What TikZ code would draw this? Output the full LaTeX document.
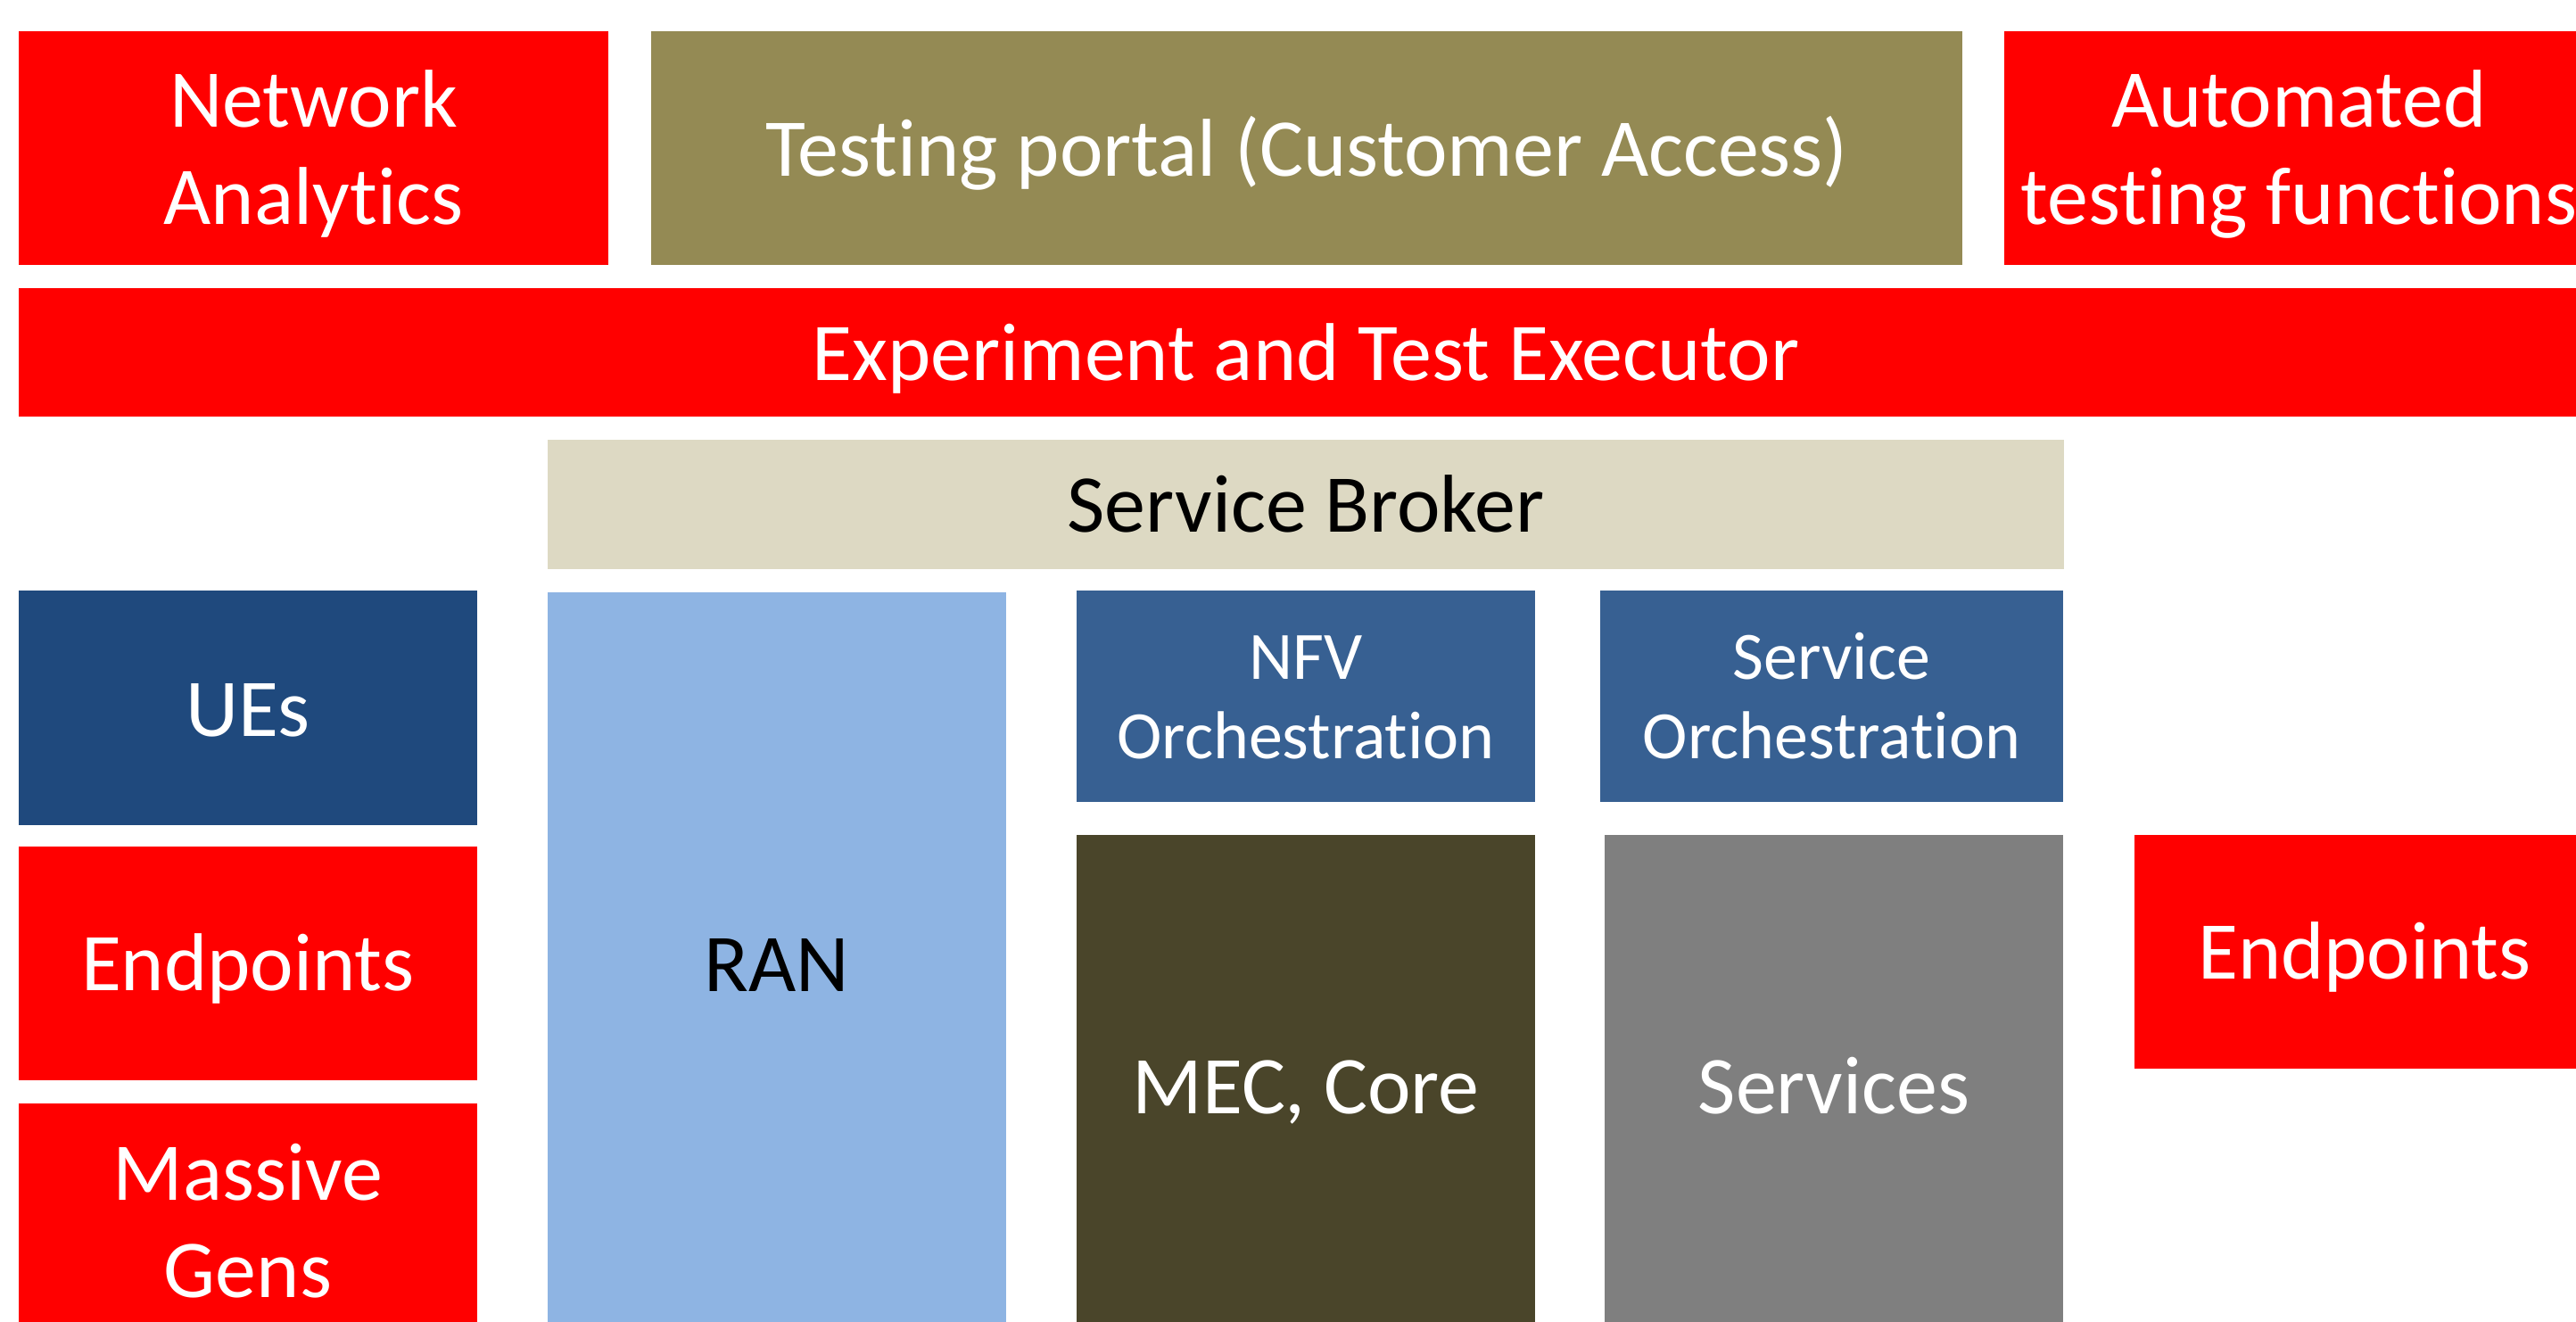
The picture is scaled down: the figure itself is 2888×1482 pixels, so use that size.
\documentclass[tikz,border=0pt]{standalone}
\usepackage{fontspec}
\setmainfont{Carlito}[Ligatures=NoCommon]
\usetikzlibrary{fit}
\definecolor{redbox}{HTML}{FF0000}
\definecolor{olivebox}{HTML}{948A54}
\definecolor{beigebox}{HTML}{DDD9C3}
\definecolor{navybox}{HTML}{1F497D}
\definecolor{bluebox}{HTML}{376092}
\definecolor{skybox}{HTML}{8EB4E3}
\definecolor{darkolivebox}{HTML}{4A452A}
\definecolor{greybox}{HTML}{7F7F7F}
\tikzset{
  blk/.style={rectangle, inner sep=0pt, outer sep=0pt, draw=none},
  bigtext/.style={font=\fontsize{92}{109}\selectfont},
  smalltext/.style={font=\fontsize{76}{89}\selectfont},
  lbl/.style={anchor=base, inner sep=0pt, outer sep=0pt, text=white},
}
\newcommand{\twolines}[2]{\begin{tabular}[t]{@{}c@{}}#1\\#2\end{tabular}}
\begin{document}
\begin{tikzpicture}[x=1pt,y=-1pt]
\clip (0,0) rectangle (2888,1482);
\fill[white] (0,0) rectangle (2888,1482);
% boxes
\node[blk, fill=redbox, fit={(21,35) (682,297)}] (na) {};
\node[blk, fill=olivebox, fit={(730,35) (2200,297)}] (tp) {};
\node[blk, fill=redbox, fit={(2247,35) (2908,297)}] (atf) {};
\node[blk, fill=redbox, fit={(21,323) (2907,467)}] (ete) {};
\node[blk, fill=beigebox, fit={(614,493) (2314,638)}] (sb) {};
\node[blk, fill=navybox, fit={(21,662) (535,925)}] (ues) {};
\node[blk, fill=redbox, fit={(21,949) (535,1211)}] (ep1) {};
\node[blk, fill=redbox, fit={(21,1237) (535,1499)}] (mg) {};
\node[blk, fill=skybox, fit={(614,664) (1128,1500)}] (ran) {};
\node[blk, fill=bluebox, fit={(1207,662) (1721,899)}] (nfv) {};
\node[blk, fill=bluebox, fit={(1794,662) (2313,899)}] (so) {};
\node[blk, fill=darkolivebox, fit={(1207,936) (1721,1504)}] (mec) {};
\node[blk, fill=greybox, fit={(1799,936) (2313,1504)}] (svc) {};
\node[blk, fill=redbox, fit={(2393,936) (2909,1198)}] (ep2) {};
% labels
\node[lbl, bigtext] (na-t) at (na.center |- 0,143) {\twolines{Network}{Analytics}};
\node[lbl, bigtext] (tp-t) at (tp.center |- 0,197) {Testing portal (Customer Access)};
\node[lbl, bigtext] (atf-t) at (atf.center |- 0,143) {\twolines{Automated}{testing functions}};
\node[lbl, bigtext] (ete-t) at (1464,426) {Experiment and Test Executor};
\node[lbl, bigtext, text=black] (sb-t) at (sb.center |- 0,596) {Service Broker};
\node[lbl, bigtext] (ues-t) at (ues.center |- 0,825) {UEs};
\node[lbl, bigtext] (ep1-t) at (ep1.center |- 0,1110) {Endpoints};
\node[lbl, bigtext] (mg-t) at (mg.center |- 0,1345) {\twolines{Massive}{Gens}};
\node[lbl, bigtext, text=black] (ran-t) at (ran.center |- 0,1111) {RAN};
\node[lbl, smalltext] (nfv-t) at (nfv.center |- 0,761) {\twolines{NFV}{Orchestration}};
\node[lbl, smalltext] (so-t) at (so.center |- 0,761) {\twolines{Service}{Orchestration}};
\node[lbl, bigtext] (mec-t) at (mec.center |- 0,1248) {MEC, Core};
\node[lbl, bigtext] (svc-t) at (svc.center |- 0,1248) {Services};
\node[lbl, bigtext] (ep2-t) at (ep2.center |- 0,1097) {Endpoints};
\end{tikzpicture}
\end{document}
